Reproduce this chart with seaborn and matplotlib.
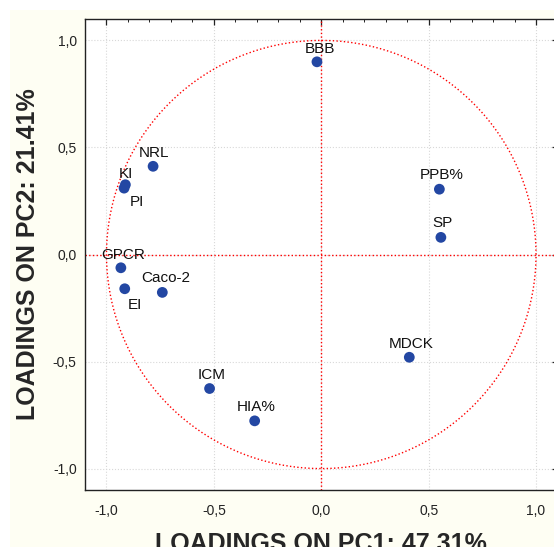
import numpy as np
import pandas as pd
import matplotlib
matplotlib.use("Agg")
import matplotlib.pyplot as plt
from matplotlib.patches import Rectangle
from matplotlib.ticker import MultipleLocator, FuncFormatter
import seaborn as sns

# ----------------------------------------------------------------------
# Loadings
# ----------------------------------------------------------------------
variables = ["BBB", "PPB%", "SP", "MDCK", "HIA%", "ICM", "Caco-2",
             "EI", "GPCR", "KI", "PI", "NRL"]
pc1 = [-0.02, 0.55, 0.557, 0.41, -0.31, -0.52, -0.74,
       -0.915, -0.933, -0.912, -0.918, -0.783]
pc2 = [0.90, 0.305, 0.08, -0.48, -0.777, -0.626, -0.177,
       -0.16, -0.062, 0.326, 0.31, 0.412]
# label placement (pixels, relative to the point)
label_dx = [3, 2, 2, 2, 2, 2, 3, 10, 2, 1, 13, 1]
label_dy = [13, 14, 14, 13, 14, 14, 14, -16, 13, 11, -14, 13]

x_label = "LOADINGS ON PC1: 47.31%"
y_label = "LOADINGS ON PC2: 21.41%"

df = pd.DataFrame({"var": variables, "PC1": pc1, "PC2": pc2})

sns.set_style("white")
plt.rcParams["font.family"] = ["Liberation Sans", "DejaVu Sans"]

fig = plt.figure(figsize=(5.54, 5.47), dpi=100, facecolor="white")
# cream panel behind the plot
fig.patches.append(Rectangle((10 / 554, 0), 1, 1 - 10 / 547, transform=fig.transFigure,
                             facecolor="#fefef3", edgecolor="none", zorder=-10))
ax = fig.add_axes([85 / 554, 57 / 547, 472.5 / 554, 471 / 547])
ax.set_facecolor("white")

# unit circle and zero lines
t = np.linspace(0, 2 * np.pi, 400)
ax.plot(np.cos(t), np.sin(t), color="red", ls=":", lw=1.0, zorder=2)
ax.axhline(0, color="red", ls=":", lw=1.0, zorder=2)
ax.axvline(0, color="red", ls=":", lw=1.0, zorder=2)

sns.scatterplot(data=df, x="PC1", y="PC2", ax=ax, color="#2347a3", s=60,
                edgecolor="none", zorder=3)

for name, x, y, dx, dy in zip(variables, pc1, pc2, label_dx, label_dy):
    ax.annotate(name, (x, y), xytext=(dx, dy), textcoords="offset pixels",
                ha="center", va="center", fontsize=11, color="#111111")

ax.set_xlim(-1.1, 1.1)
ax.set_ylim(-1.1, 1.1)
ax.xaxis.set_major_locator(MultipleLocator(0.5))
ax.yaxis.set_major_locator(MultipleLocator(0.5))
ax.xaxis.set_minor_locator(MultipleLocator(0.1))
ax.yaxis.set_minor_locator(MultipleLocator(0.1))
comma = FuncFormatter(lambda v, p: f"{v:.1f}".replace(".", ",").replace("-0,0", "0,0"))
ax.xaxis.set_major_formatter(comma)
ax.yaxis.set_major_formatter(comma)

ax.grid(True, which="major", color="#d8d8d8", ls=":", lw=0.8, zorder=0)
ax.tick_params(which="both", direction="in", top=True, right=True, colors="#222222",
               labelsize=10)
ax.tick_params(which="major", length=4, width=0.9)
ax.tick_params(which="minor", length=2, width=0.7)
ax.tick_params(axis="x", pad=10)
ax.tick_params(axis="y", pad=6)
for sp in ax.spines.values():
    sp.set_color("#222222")
    sp.set_linewidth(1.0)

ax.set_xlabel(x_label, fontsize=18, fontweight="bold", labelpad=10)
ax.set_ylabel(y_label, fontsize=18, fontweight="bold", labelpad=9)

fig.savefig("out.png", dpi=100, facecolor=fig.get_facecolor())
